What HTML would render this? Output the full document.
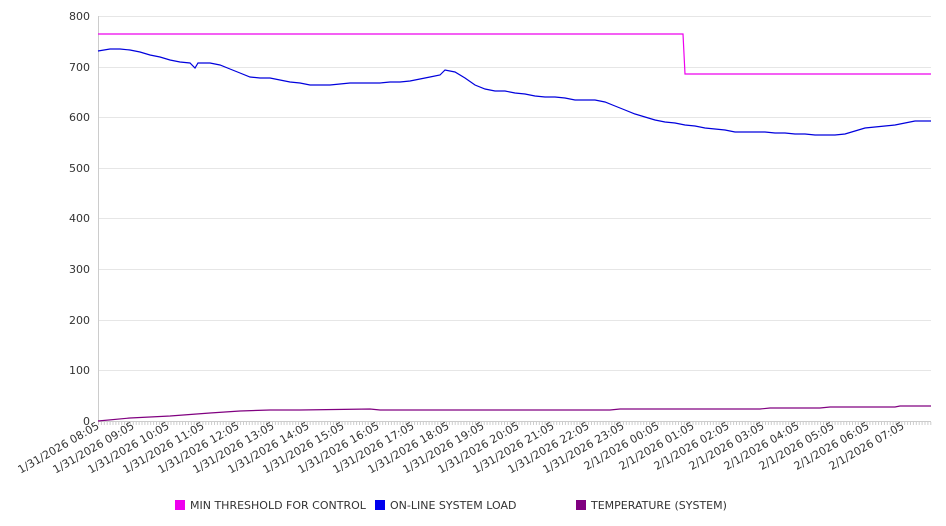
<!DOCTYPE html>
<html><head><style>body{margin:0;background:#fff}svg{display:block;font-family:"DejaVu Sans",sans-serif}</style></head><body>
<svg width="946" height="526" xmlns="http://www.w3.org/2000/svg">
<g stroke="#e6e6e6" stroke-width="1">
<line x1="98" x2="931" y1="16.5" y2="16.5"/><line x1="98" x2="931" y1="67.5" y2="67.5"/><line x1="98" x2="931" y1="117.5" y2="117.5"/><line x1="98" x2="931" y1="168.5" y2="168.5"/><line x1="98" x2="931" y1="218.5" y2="218.5"/><line x1="98" x2="931" y1="269.5" y2="269.5"/><line x1="98" x2="931" y1="320.5" y2="320.5"/><line x1="98" x2="931" y1="370.5" y2="370.5"/>
</g>
<line x1="98.5" x2="98.5" y1="16" y2="421" stroke="#ccc"/>
<line x1="98" x2="931" y1="421.5" y2="421.5" stroke="#ccc"/>
<path id="ticks" d="" />
<g font-size="11" fill="#333" text-anchor="end">
<text x="90" y="20">800</text><text x="90" y="71">700</text><text x="90" y="121">600</text><text x="90" y="172">500</text><text x="90" y="222">400</text><text x="90" y="273">300</text><text x="90" y="324">200</text><text x="90" y="374">100</text><text x="90" y="425">0</text>
</g>
<g stroke="#ccc" id="tk"></g>
<polyline fill="none" stroke="#ee00ee" stroke-width="1.2" points="98,34 683,34 685,74 931,74"/>
<polyline fill="none" stroke="#0000dd" stroke-width="1.2" points="98,51 110,49 120,49 130,50 140,52 150,55 160,57 170,60 180,62 190,63 195,68 198,63 210,63 220,65 230,69 240,73 250,77 260,78 270,78 280,80 290,82 300,83 310,85 320,85 330,85 340,84 350,83 360,83 370,83 380,83 390,82 400,82 410,81 420,79 430,77 440,75 445,70 455,72 465,78 475,85 485,89 495,91 505,91 515,93 525,94 535,96 545,97 555,97 565,98 575,100 585,100 595,100 605,102 615,106 625,110 635,114 645,117 655,120 665,122 675,123 685,125 695,126 705,128 715,129 725,130 735,132 745,132 755,132 765,132 775,133 785,133 795,134 805,134 815,135 825,135 835,135 845,134 855,131 865,128 875,127 885,126 895,125 905,123 915,121 925,121 931,121"/>
<polyline fill="none" stroke="#800080" stroke-width="1.2" points="98,421 130,418 170,416 210,413 240,411 270,410 300,410 370,409 380,410 610,410 620,409 760,409 770,408 820,408 830,407 895,407 900,406 931,406"/>
<g font-size="11" fill="#333" text-anchor="end">
<text transform="translate(100,428) rotate(-30)">1/31/2026 08:05</text>
<text transform="translate(135,428) rotate(-30)">1/31/2026 09:05</text>
<text transform="translate(170,428) rotate(-30)">1/31/2026 10:05</text>
<text transform="translate(205,428) rotate(-30)">1/31/2026 11:05</text>
<text transform="translate(240,428) rotate(-30)">1/31/2026 12:05</text>
<text transform="translate(275,428) rotate(-30)">1/31/2026 13:05</text>
<text transform="translate(310,428) rotate(-30)">1/31/2026 14:05</text>
<text transform="translate(345,428) rotate(-30)">1/31/2026 15:05</text>
<text transform="translate(380,428) rotate(-30)">1/31/2026 16:05</text>
<text transform="translate(415,428) rotate(-30)">1/31/2026 17:05</text>
<text transform="translate(450,428) rotate(-30)">1/31/2026 18:05</text>
<text transform="translate(485,428) rotate(-30)">1/31/2026 19:05</text>
<text transform="translate(520,428) rotate(-30)">1/31/2026 20:05</text>
<text transform="translate(555,428) rotate(-30)">1/31/2026 21:05</text>
<text transform="translate(590,428) rotate(-30)">1/31/2026 22:05</text>
<text transform="translate(625,428) rotate(-30)">1/31/2026 23:05</text>
<text transform="translate(660,428) rotate(-30)">2/1/2026 00:05</text>
<text transform="translate(695,428) rotate(-30)">2/1/2026 01:05</text>
<text transform="translate(730,428) rotate(-30)">2/1/2026 02:05</text>
<text transform="translate(765,428) rotate(-30)">2/1/2026 03:05</text>
<text transform="translate(800,428) rotate(-30)">2/1/2026 04:05</text>
<text transform="translate(835,428) rotate(-30)">2/1/2026 05:05</text>
<text transform="translate(870,428) rotate(-30)">2/1/2026 06:05</text>
<text transform="translate(905,428) rotate(-30)">2/1/2026 07:05</text>
</g>
<g font-size="11" fill="#333">
<rect x="175" y="500" width="10" height="10" fill="#ee00ee"/><text x="190" y="509">MIN THRESHOLD FOR CONTROL</text>
<rect x="375" y="500" width="10" height="10" fill="#0000ee"/><text x="390" y="509">ON-LINE SYSTEM LOAD</text>
<rect x="576" y="500" width="10" height="10" fill="#800080"/><text x="591" y="509">TEMPERATURE (SYSTEM)</text>
</g>
</svg>
<script>
var g=document.getElementById('tk'),s='';for(var x=98.5;x<931;x+=2.9){s+='<line x1="'+x+'" x2="'+x+'" y1="422" y2="425"/>';}g.innerHTML=s;
</script>
</body></html>
